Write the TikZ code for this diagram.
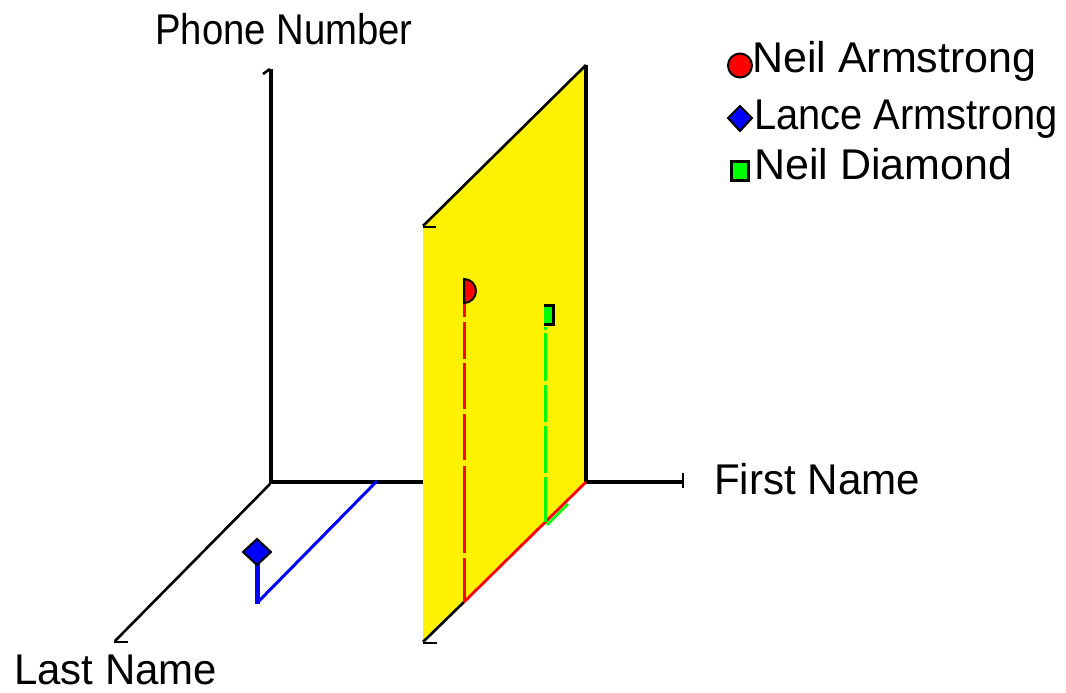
\documentclass[tikz,border=0pt]{standalone}
\usepackage{fontspec}
\setmainfont{Liberation Sans}
\usepackage{graphicx}
\definecolor{planeyellow}{RGB}{255,242,0}
\definecolor{pred}{RGB}{255,0,0}
\definecolor{pgreen}{RGB}{0,255,0}
\definecolor{pblue}{RGB}{0,0,255}
\begin{document}
\begin{tikzpicture}[x=1pt,y=-1pt,
  axis/.style={line width=3.6pt},
  diag/.style={line width=2.6pt},
  tickmark/.style={line width=2.6pt},
  lbl/.style={inner sep=0pt, anchor=base west, font=\fontsize{43}{50}\selectfont},
  redmark/.style={fill=pred, draw=black, line width=2pt},
  bluemark/.style={fill=pblue, draw=black, line width=2pt},
  greenmark/.style={fill=pgreen, draw=black, line width=3pt},
]
\useasboundingbox (0,0) rectangle (1066,693);
% axes
\coordinate (O) at (271,482);
\coordinate (Ztop) at (271,69);
\coordinate (Xend) at (684,482);
\coordinate (Yend) at (115,641);
\draw[axis] (O) -- (Ztop);
\draw[tickmark] (263,74) -- (270,69);
\draw[axis] (269,482) -- (Xend);
\draw[tickmark] (683,473) -- (683,488);
\draw[diag] (270,484) -- (Yend);
\draw[tickmark] (114,642) -- (128,642);
% plane
\coordinate (A) at (423,226);
\coordinate (B) at (586,65);
\coordinate (C) at (586,482);
\coordinate (D) at (423,642);
\coordinate (Rb) at (464,602);
\coordinate (Gb) at (545,522);
\fill[planeyellow] (A) -- (B) -- (C) -- (D) -- cycle;
\draw[diag] (A) -- (B);
\draw[line width=4pt] (B) -- (C);
\draw[diag] (Rb) -- (D);
\draw[pgreen, line width=2.5pt] (547,525) -- (568,504);
\draw[pred, line width=2.8pt] (C) -- (Rb);
\draw[tickmark] (423,227) -- (436,227);
\draw[tickmark] (423,643) -- (437,643);
% blue (Lance Armstrong)
\coordinate (Bx) at (377,481);
\coordinate (Bb) at (258,602);
\draw[pblue, line width=3pt] (Bx) -- (Bb);
\draw[pblue, line width=5pt] (257,604) -- (257,560);
\draw[bluemark] (257,539) -- (271,552) -- (257,565) -- (243,552) -- cycle;
% red (Neil Armstrong)
\draw[pred, line width=3pt, dash pattern=on 14pt off 5pt on 37pt off 4pt on 46pt off 5pt on 46pt off 6pt on 87pt off 5pt on 44pt off 100pt] (464,303) -- (Rb);
\filldraw[redmark] (464,279) arc[start angle=-90, end angle=90, radius=12] -- cycle;
% green (Neil Diamond)
\draw[pgreen, line width=3pt, dash pattern=on 3pt off 3pt on 48pt off 4pt on 37pt off 4pt on 47pt off 4pt on 45pt off 100pt] (545,327) -- (Gb);
\fill[pgreen] (544,304) rectangle (555,326);
\draw[line width=3pt] (544,305.5) -- (553.5,305.5) -- (553.5,324.5) -- (544,324.5);
% labels
\node[lbl] (pn) at (155,45) {\scalebox{0.89}[1]{Phone Number}};
\node[lbl] (fn) at (714,494) {\scalebox{0.98}[1]{First Name}};
\node[lbl] (ln) at (14,684) {\scalebox{0.976}[1]{Last Name}};
% legend
\filldraw[redmark] (740,65.5) circle[radius=12];
\draw[bluemark] (740,106) -- (752,118) -- (740,131) -- (728,118) -- cycle;
\filldraw[greenmark] (731.5,161.5) rectangle (748.5,180.5);
\node[lbl] (l1) at (752,73) {\scalebox{1.0}[1]{Neil Armstrong}};
\node[lbl] (l2) at (754,129) {\scalebox{0.927}[1]{Lance Armstrong}};
\node[lbl] (l3) at (754,179) {\scalebox{1.0}[1]{Neil Diamond}};
\end{tikzpicture}
\end{document}
